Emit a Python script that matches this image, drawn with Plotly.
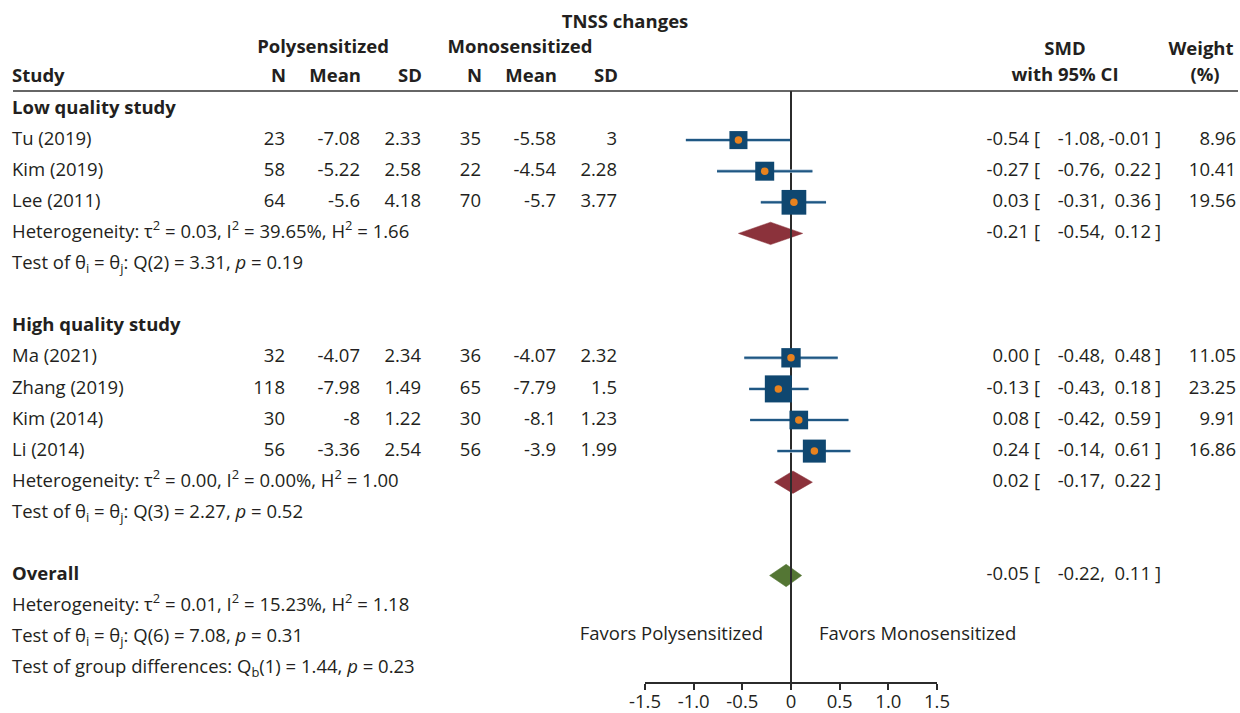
import plotly.graph_objects as go

# ---------------- data ----------------
studies = ["Tu (2019)", "Kim (2019)", "Lee (2011)", "Ma (2021)", "Zhang (2019)", "Kim (2014)", "Li (2014)"]
groups = ["Low quality study"] * 3 + ["High quality study"] * 4
poly_n = [23, 58, 64, 32, 118, 30, 56]
poly_mean = [-7.08, -5.22, -5.6, -4.07, -7.98, -8, -3.36]
poly_sd = [2.33, 2.58, 4.18, 2.34, 1.49, 1.22, 2.54]
mono_n = [35, 22, 70, 36, 65, 30, 56]
mono_mean = [-5.58, -4.54, -5.7, -4.07, -7.79, -8.1, -3.9]
mono_sd = [3, 2.28, 3.77, 2.32, 1.5, 1.23, 1.99]
smd = [-0.54, -0.27, 0.03, 0.00, -0.13, 0.08, 0.24]
ci_lo = [-1.08, -0.76, -0.31, -0.48, -0.43, -0.42, -0.14]
ci_hi = [-0.01, 0.22, 0.36, 0.48, 0.18, 0.59, 0.61]
weight = [8.96, 10.41, 19.56, 11.05, 23.25, 9.91, 16.86]

group_names = ["Low quality study", "High quality study"]
group_smd = [-0.21, 0.02]
group_lo = [-0.54, -0.17]
group_hi = [0.12, 0.22]
group_het = [
    "Heterogeneity: τ<sup>2</sup> = 0.03, I<sup>2</sup> = 39.65%, H<sup>2</sup> = 1.66",
    "Heterogeneity: τ<sup>2</sup> = 0.00, I<sup>2</sup> = 0.00%, H<sup>2</sup> = 1.00",
]
group_test = [
    "Test of θ<sub>i</sub> = θ<sub>j</sub>: Q(2) = 3.31, <i>p</i> = 0.19",
    "Test of θ<sub>i</sub> = θ<sub>j</sub>: Q(3) = 2.27, <i>p</i> = 0.52",
]
overall_smd, overall_lo, overall_hi = -0.05, -0.22, 0.11
overall_text = [
    "Heterogeneity: τ<sup>2</sup> = 0.01, I<sup>2</sup> = 15.23%, H<sup>2</sup> = 1.18",
    "Test of θ<sub>i</sub> = θ<sub>j</sub>: Q(6) = 7.08, <i>p</i> = 0.31",
    "Test of group differences: Q<sub>b</sub>(1) = 1.44, <i>p</i> = 0.23",
]
col_headers = ["N", "Mean", "SD", "N", "Mean", "SD"]
tick_vals = [-1.5, -1.0, -0.5, 0, 0.5, 1.0, 1.5]
tick_text = ["-1.5", "-1.0", "-0.5", "0", "0.5", "1.0", "1.5"]

# ---------------- layout helpers ----------------
W, H = 1240, 713
FONT = "Open Sans"
FS = 18.5
TXT = "#231f20"
SQ = "#0f4770"
DOT = "#e8821e"
CI = "#1f5783"
MAROON = "#8b323b"
GREEN = "#547634"
ROW0, ROWH = 109, 31.1       # pixel y of row 0, row height


def frac_x(x):
    return x / W


def frac_y(y):
    return 1 - y / H


def row_of(ypix):
    return (ypix - ROW0) / ROWH


# assign rows
rows_study, rows_group_head, rows_group_sum, rows_group_test = [], [], [], []
r = 0
for g in group_names:
    rows_group_head.append(r)
    r += 1
    for i, gg in enumerate(groups):
        if gg == g:
            rows_study.append(r)
            r += 1
    rows_group_sum.append(r)
    rows_group_test.append(r + 1)
    r += 3
row_overall = r
row_overall_text = [r + 1, r + 2, r + 3]

y_line_top = row_of(91)
y_line_bot = row_of(683)

fig = go.Figure()
F = dict(xaxis="x2", yaxis="y", hoverinfo="skip", showlegend=False)

# diamonds (drawn below the zero line)
half_h = 0.36
for k in range(len(group_names)):
    rr = rows_group_sum[k]
    fig.add_trace(go.Scatter(
        x=[group_lo[k], group_smd[k], group_hi[k], group_smd[k], group_lo[k]],
        y=[rr, rr - half_h, rr, rr + half_h, rr],
        fill="toself", fillcolor=MAROON, mode="lines",
        line=dict(color=MAROON, width=0.5), **F))
fig.add_trace(go.Scatter(
    x=[overall_lo, overall_smd, overall_hi, overall_smd, overall_lo],
    y=[row_overall, row_overall - half_h, row_overall, row_overall + half_h, row_overall],
    fill="toself", fillcolor=GREEN, mode="lines",
    line=dict(color=GREEN, width=0.5), **F))

# zero reference line
fig.add_trace(go.Scatter(x=[0, 0], y=[y_line_top, y_line_bot], mode="lines",
                         line=dict(color="#2b2b2b", width=2), **F))

# CI lines (soft outline then core)
for i in range(len(studies)):
    fig.add_trace(go.Scatter(x=[ci_lo[i], ci_hi[i]], y=[rows_study[i]] * 2, mode="lines",
                             line=dict(color="#a9c0d4", width=3.2), **F))
    fig.add_trace(go.Scatter(x=[ci_lo[i], ci_hi[i]], y=[rows_study[i]] * 2, mode="lines",
                             line=dict(color=CI, width=2), **F))

# squares + dots
sizes = [12.4 + 0.63 * w for w in weight]
fig.add_trace(go.Scatter(x=smd, y=rows_study, mode="markers",
                         marker=dict(symbol="square", size=sizes, color=SQ, opacity=1,
                                     line=dict(width=0)), **F))
fig.add_trace(go.Scatter(x=smd, y=rows_study, mode="markers",
                         marker=dict(symbol="circle", size=7.5, color=DOT, opacity=1,
                                     line=dict(width=0)), **F))


# ---------------- text columns (pixel x-axis "x") ----------------
def text_col(xs, ys, texts, pos, bold=False):
    if bold:
        texts = ["<b>" + t + "</b>" for t in texts]
    if not isinstance(xs, list):
        xs = [xs] * len(ys)
    fig.add_trace(go.Scatter(
        x=xs, y=ys, text=texts, mode="text", textposition=pos,
        textfont=dict(family=FONT, size=FS, color=TXT),
        cliponaxis=False, xaxis="x", yaxis="y", hoverinfo="skip", showlegend=False))


LEFT, RIGHT, MID = "middle right", "middle left", "middle center"

# headers
text_col([625], [row_of(23)], ["TNSS changes"], MID, True)
text_col([323, 520], [row_of(48)] * 2, ["Polysensitized", "Monosensitized"], MID, True)
text_col([1065, 1201], [row_of(50)] * 2, ["SMD", "Weight"], MID, True)
text_col([1065, 1205], [row_of(76)] * 2, ["with 95% CI", "(%)"], MID, True)
text_col([12], [row_of(77)], ["Study"], LEFT, True)
col_right = [285, 360, 421, 481, 556, 617]
text_col([c + 1 for c in col_right], [row_of(77)] * 6, col_headers, RIGHT, True)

# left column
text_col(12, rows_group_head, group_names, LEFT, True)
text_col(12, rows_study, studies, LEFT)
text_col(12, rows_group_sum, group_het, LEFT)
text_col(12, rows_group_test, group_test, LEFT)
text_col(12, [row_overall], ["Overall"], LEFT, True)
text_col(12, row_overall_text, overall_text, LEFT)


def fmt(v):
    return f"{v:g}"


for vals, xr in zip([poly_n, poly_mean, poly_sd, mono_n, mono_mean, mono_sd], col_right):
    text_col(xr, rows_study, [fmt(v) for v in vals], RIGHT)

# SMD with CI and weight
all_rows = rows_study + rows_group_sum + [row_overall]
all_est = smd + group_smd + [overall_smd]
all_lo = ci_lo + group_lo + [overall_lo]
all_hi = ci_hi + group_hi + [overall_hi]
text_col(1029, all_rows, [f"{v:.2f}" for v in all_est], RIGHT)
text_col(1034, all_rows, ["["] * len(all_rows), LEFT)
text_col(1105, all_rows, [f"{v:.2f}," for v in all_lo], RIGHT)
text_col(1151, all_rows, [f"{v:.2f}" for v in all_hi], RIGHT)
text_col(1155, all_rows, ["]"] * len(all_rows), LEFT)
text_col(1236, rows_study, [f"{w:.2f}" for w in weight], RIGHT)

# favours labels
text_col([763], [row_of(635)], ["Favors Polysensitized"], RIGHT)
text_col([819], [row_of(635)], ["Favors Monosensitized"], LEFT)

# header rule
fig.add_shape(type="line", xref="x", yref="y", x0=13, x1=1238,
              y0=row_of(91), y1=row_of(91), line=dict(color="#333333", width=1.6))

fig.update_layout(
    template="none",
    width=W, height=H,
    margin=dict(l=0, r=0, t=0, b=0, pad=0, autoexpand=False),
    paper_bgcolor="white", plot_bgcolor="rgba(0,0,0,0)",
    font=dict(family=FONT, size=FS, color=TXT),
    xaxis=dict(domain=[0, 1], range=[0, W], visible=False, automargin=False),
    xaxis2=dict(domain=[frac_x(645), frac_x(937)], range=[-1.5, 1.5],
                anchor="free", position=frac_y(683), automargin=False,
                tickvals=tick_vals, ticktext=tick_text,
                ticks="outside", ticklen=6, tickwidth=2, tickcolor="#2b2b2b",
                ticklabelstandoff=-4,
                showline=True, linewidth=2, linecolor="#2b2b2b",
                showgrid=False, zeroline=False,
                tickfont=dict(family=FONT, size=FS, color=TXT)),
    yaxis=dict(domain=[0, 1], range=[row_of(H), row_of(0)], automargin=False,
               visible=False, showgrid=False, zeroline=False),
    showlegend=False,
)

fig.write_html(
    "out.html",
    config={"displayModeBar": False},
    post_script="document.body.style.margin='0';document.body.style.overflow='hidden';",
)
